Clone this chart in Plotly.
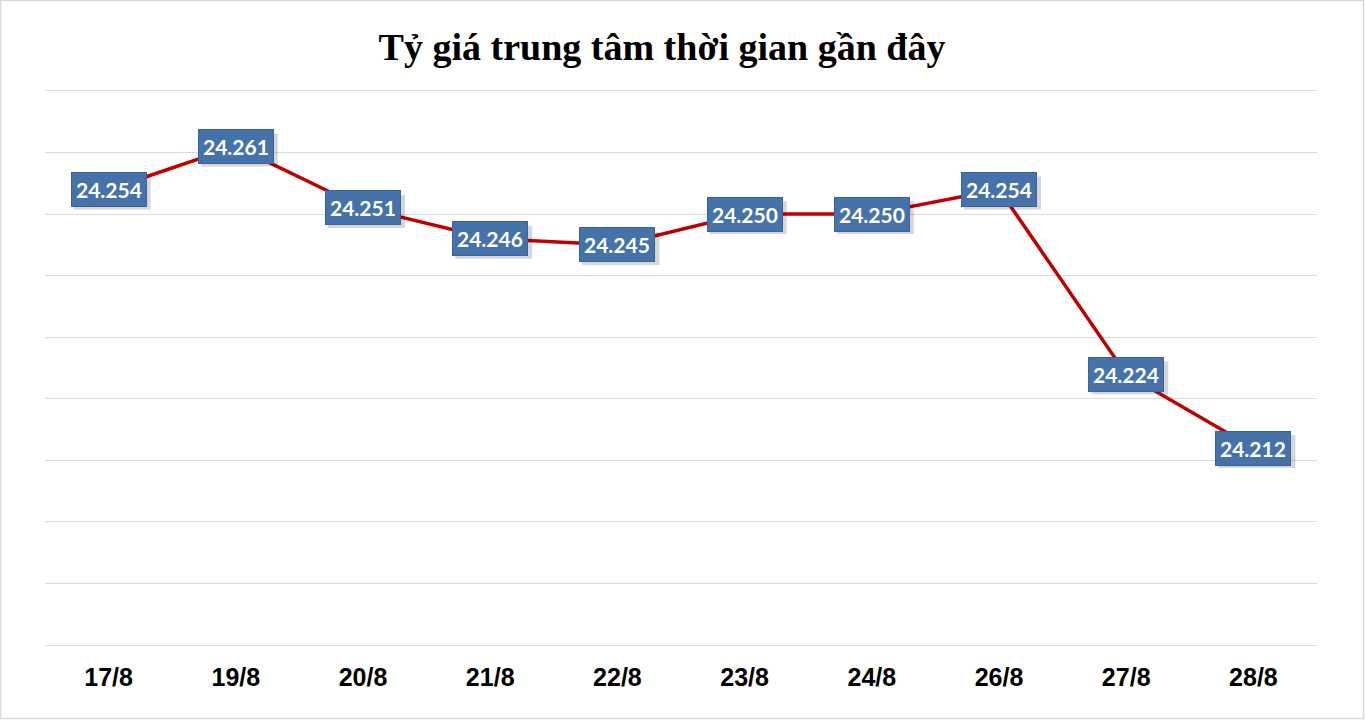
import plotly.graph_objects as go

dates = ["17/8", "19/8", "20/8", "21/8", "22/8", "23/8", "24/8", "26/8", "27/8", "28/8"]
rates = [24.254, 24.261, 24.251, 24.246, 24.245, 24.250, 24.250, 24.254, 24.224, 24.212]
labels = ["24.254", "24.261", "24.251", "24.246", "24.245", "24.250", "24.250", "24.254", "24.224", "24.212"]
title = "Tỷ giá trung tâm thời gian gần đây"

fig = go.Figure()
fig.add_trace(go.Scatter(x=dates, y=rates, mode="lines",
                         line=dict(color="#c00000", width=3.5), hoverinfo="skip"))

annos = []
shapes = []
for d, v, t in zip(dates, rates, labels):
    # soft shadow behind each label box, anchored at the data point
    shapes.append(dict(type="rect", xref="x", yref="y", xsizemode="pixel", ysizemode="pixel",
                       xanchor=d, yanchor=v, x0=-35, x1=42, y0=-20, y1=13,
                       fillcolor="rgba(0,0,0,0.16)", line=dict(width=0), layer="above"))
    annos.append(dict(x=d, y=v, xref="x", yref="y", text="<b>" + t + "</b>", showarrow=False,
                      font=dict(family="Lato", size=21, color="white"),
                      bgcolor="#4672aa", bordercolor="#3a639a", borderwidth=1, borderpad=4))

shapes.append(dict(type="rect", xref="paper", yref="paper", x0=-44.5 / 1272, x1=1 + 46.5 / 1272,
                   y0=-73.5 / 554, y1=1 + 90.5 / 554, line=dict(color="#d9d9d9", width=1.5)))

fig.update_layout(
    width=1365, height=720,
    paper_bgcolor="white", plot_bgcolor="white",
    margin=dict(l=45, r=48, t=91, b=75),
    title=dict(text="<b>" + title + "</b>", x=0.485, xanchor="center", y=1 - 47 / 720, yanchor="middle",
               font=dict(family="Liberation Serif", size=38, color="black")),
    showlegend=False,
    annotations=annos,
    shapes=shapes,
)
fig.update_xaxes(range=[-0.5, 9.5], showgrid=False, showline=True, mirror=True,
                 linecolor="#d9d9d9", linewidth=1, ticks="",
                 tickfont=dict(family="Liberation Sans", size=25, color="black"),
                 ticklabelstandoff=10,
                 tickvals=dates, ticktext=["<b>" + d + "</b>" for d in dates])
fig.update_yaxes(range=[24.18, 24.27], dtick=0.01, tick0=24.18, showgrid=True, gridcolor="#d9d9d9",
                 gridwidth=1, showticklabels=False, zeroline=False, showline=False)

fig.write_html("out.html", config={"displayModeBar": False},
               post_script="document.body.style.margin='0px';")
